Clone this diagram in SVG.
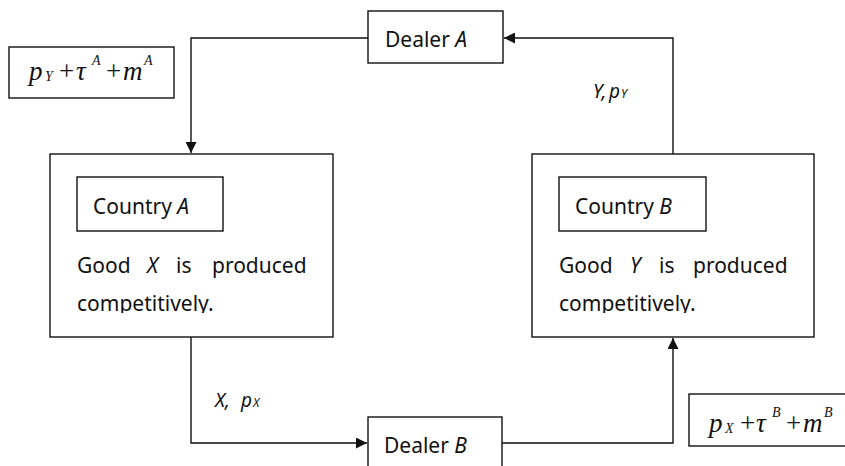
<svg xmlns="http://www.w3.org/2000/svg" width="845" height="466" viewBox="0 0 845 466">
<style>
.box{fill:#fff;stroke:#111;stroke-width:1.4}
.lbl{font-family:"Noto Sans","Open Sans","Liberation Sans",sans-serif;font-size:21px;fill:#111}
.it{font-style:italic}
.edge{fill:none;stroke:#111;stroke-width:1.4}
.math{font-family:"Liberation Serif","Times New Roman",serif;font-size:27px;fill:#111}
.small{font-size:14px}
.sl{font-family:"Noto Sans","Open Sans","Liberation Sans",sans-serif;font-size:19px;fill:#111;font-style:italic}
.ss{font-size:12px}
</style>
<defs>
<marker id="ah" viewBox="0 0 10 10" refX="10" refY="5" markerWidth="11" markerHeight="11" markerUnits="userSpaceOnUse" orient="auto">
<path d="M0,0 L10,5 L0,10 z" fill="#111"/>
</marker>
<clipPath id="clipA"><rect x="50" y="154" width="283" height="159"/></clipPath>
<clipPath id="clipB"><rect x="532" y="154" width="282" height="159"/></clipPath>
</defs>
<rect width="845" height="466" fill="#fff"/>

<g id="connectors">
<path class="edge" d="M368,38 H191 V153" marker-end="url(#ah)"/>
<path class="edge" d="M673,154 V38 H504" marker-end="url(#ah)"/>
<path class="edge" d="M191,337 V443 H367" marker-end="url(#ah)"/>
<path class="edge" d="M502,443 H673 V338" marker-end="url(#ah)"/>
<text class="sl" x="593" y="98">Y,<tspan x="609">p</tspan><tspan x="621" class="ss">Y</tspan></text>
<text class="sl" x="215" y="407">X,<tspan x="241">p</tspan><tspan x="253" class="ss">X</tspan></text>
</g>

<g id="dealerA">
<rect class="box" x="368" y="11" width="135" height="52"/>
<text class="lbl" x="385" y="47">Dealer <tspan class="it">A</tspan></text>
</g>

<g id="dealerB">
<rect class="box" x="368" y="417" width="134" height="60"/>
<text class="lbl" x="384" y="453">Dealer <tspan class="it">B</tspan></text>
</g>

<g id="priceA">
<rect class="box" x="9" y="47" width="165" height="51"/>
<text class="math" y="80"><tspan x="29" font-style="italic">p</tspan><tspan x="45" dy="1" class="small" font-style="italic">Y</tspan><tspan x="59" dy="-1">+</tspan><tspan x="76" font-style="italic">τ</tspan><tspan x="92" dy="-15" class="small" font-style="italic">A</tspan><tspan x="106" dy="15">+</tspan><tspan x="123" font-style="italic">m</tspan><tspan x="144" dy="-15" class="small" font-style="italic">A</tspan></text>
</g>

<g id="priceB">
<rect class="box" x="689" y="394" width="170" height="52"/>
<text class="math" y="432"><tspan x="709" font-style="italic">p</tspan><tspan x="725" dy="1" class="small" font-style="italic">X</tspan><tspan x="740" dy="-1">+</tspan><tspan x="756" font-style="italic">τ</tspan><tspan x="772" dy="-15" class="small" font-style="italic">B</tspan><tspan x="786" dy="15">+</tspan><tspan x="803" font-style="italic">m</tspan><tspan x="824" dy="-15" class="small" font-style="italic">B</tspan></text>
</g>

<g id="countryA">
<rect class="box" x="50" y="154" width="283" height="183"/>
<rect class="box" x="77" y="177" width="146" height="54"/>
<text class="lbl" x="93" y="214">Country <tspan class="it">A</tspan></text>
<text class="lbl" y="273"><tspan x="77">Good</tspan><tspan x="147" class="it">X</tspan><tspan x="176">is</tspan><tspan x="212">produced</tspan></text>
<text class="lbl" x="77" y="311" clip-path="url(#clipA)">competitively.</text>
</g>

<g id="countryB">
<rect class="box" x="532" y="154" width="282" height="183"/>
<rect class="box" x="559" y="177" width="147" height="54"/>
<text class="lbl" x="575" y="214">Country <tspan class="it">B</tspan></text>
<text class="lbl" y="273"><tspan x="559">Good</tspan><tspan x="630" class="it">Y</tspan><tspan x="659">is</tspan><tspan x="693">produced</tspan></text>
<text class="lbl" x="559" y="311" clip-path="url(#clipB)">competitively.</text>
</g>
</svg>
